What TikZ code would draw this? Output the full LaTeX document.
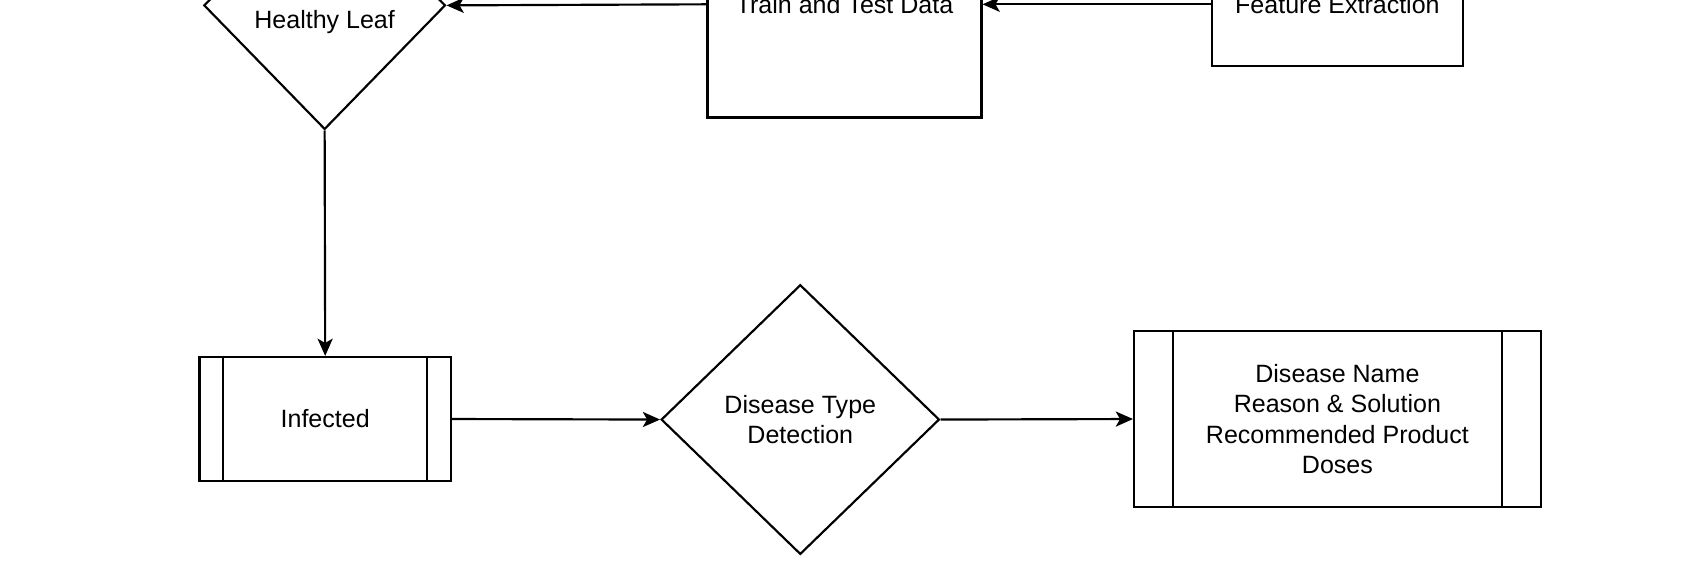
\documentclass[tikz,border=0pt]{standalone}
\usepackage{fontspec}
\setmainfont{Liberation Sans}
\usepackage{tikz}
\usetikzlibrary{arrows.meta,shapes.geometric}

\tikzset{
  box/.style={draw, black, line width=1pt, rectangle, inner sep=0pt,
    align=center, font=\fontsize{11.6pt}{14pt}\selectfont},
  decision/.style={box, diamond},
  flow/.style={line width=1pt, -{Stealth[length=8pt,width=7pt,inset=2pt]}}
}

\begin{document}
\begin{tikzpicture}[x=0.5pt, y=-0.5pt]

  \useasboundingbox (0, 0) rectangle (1566, 544.3);
  \clip (0, 0) rectangle (1566, 544.3);

    % Healthy leaf check
    \node[decision, minimum width=112pt, minimum height=115pt,
      label={[font=\fontsize{11.6pt}{14pt}\selectfont, yshift=-7.5pt]center:Healthy Leaf}]
      (healthy) at (301, 5) {};

    % Train and test data
    \node[box, minimum width=127pt, minimum height=105pt] (traindata) at (783, 4) {Train and Test Data};

    % Feature extraction
    \node[box, minimum width=116.5pt, minimum height=57pt] (features) at (1240, 4) {Feature Extraction};

    % Infected
    \node[box, minimum width=116.5pt, minimum height=57.5pt] (infected) at (301.5, 388.5) {Infected};
    \draw[line width=1pt] ([xshift=11.5pt]infected.north west) -- ([xshift=11.5pt]infected.south west);
    \draw[line width=1pt] ([xshift=-11.5pt]infected.north east) -- ([xshift=-11.5pt]infected.south east);

    % Disease type detection
    \node[decision, minimum width=129pt, minimum height=125pt] (detection) at (742, 389) {Disease Type\\Detection};

    % Result
    \node[box, minimum width=188.5pt, minimum height=81.5pt] (result) at (1240, 388.5)
      {Disease Name\\Reason \& Solution\\Recommended Product\\Doses};
    \draw[line width=1pt] ([xshift=18.5pt]result.north west) -- ([xshift=18.5pt]result.south west);
    \draw[line width=1pt] ([xshift=-18.5pt]result.north east) -- ([xshift=-18.5pt]result.south east);

    % Connectors
    \draw[flow] (features.west) -- (traindata.east);
    \draw[flow] (traindata.west) -- (healthy.east);
    \draw[flow] (healthy.south) -- (infected.north);
    \draw[flow] (infected.east) -- (detection.west);
    \draw[flow] (detection.east) -- (result.west);

\end{tikzpicture}
\end{document}
